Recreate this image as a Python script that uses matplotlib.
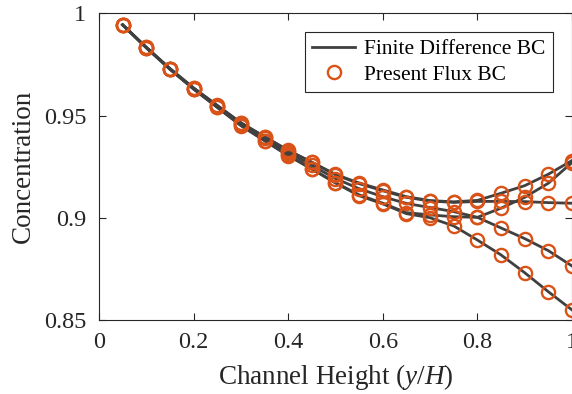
import matplotlib
matplotlib.use("Agg")
import matplotlib.pyplot as plt
from matplotlib.lines import Line2D

plt.rcParams['font.family'] = ['Liberation Serif', 'DejaVu Serif']
plt.rcParams['mathtext.fontset'] = 'custom'
plt.rcParams['mathtext.rm'] = 'Liberation Serif'
plt.rcParams['mathtext.it'] = 'Liberation Serif:italic'

# Channel height positions
x = [0.05, 0.10, 0.15, 0.20, 0.25, 0.30, 0.35, 0.40, 0.45, 0.50,
     0.55, 0.60, 0.65, 0.70, 0.75, 0.80, 0.85, 0.90, 0.95, 1.00]

# Concentration profiles (five cases)
conc_a = [0.9944, 0.9834, 0.9730, 0.9635, 0.9550, 0.9465, 0.9397, 0.9330, 0.9272, 0.9212,
          0.9170, 0.9136, 0.9103, 0.9084, 0.9078, 0.9085, 0.9120, 0.9157, 0.9213, 0.9280]
conc_b = [0.9944, 0.9834, 0.9730, 0.9635, 0.9549, 0.9464, 0.9396, 0.9329, 0.9271, 0.9210,
          0.9167, 0.9132, 0.9100, 0.9082, 0.9075, 0.9080, 0.9080, 0.9079, 0.9074, 0.9071]
conc_c = [0.9944, 0.9833, 0.9728, 0.9632, 0.9545, 0.9458, 0.9388, 0.9318, 0.9256, 0.9192,
          0.9142, 0.9103, 0.9070, 0.9050, 0.9030, 0.9002, 0.8950, 0.8898, 0.8839, 0.8764]
conc_d = [0.9944, 0.9832, 0.9727, 0.9630, 0.9541, 0.9452, 0.9378, 0.9305, 0.9240, 0.9172,
          0.9112, 0.9071, 0.9025, 0.9014, 0.9005, 0.9002, 0.9047, 0.9100, 0.9169, 0.9270]
conc_e = [0.9944, 0.9832, 0.9727, 0.9630, 0.9540, 0.9451, 0.9377, 0.9304, 0.9238, 0.9170,
          0.9108, 0.9068, 0.9020, 0.9000, 0.8960, 0.8891, 0.8818, 0.8731, 0.8638, 0.8549]
series = [conc_a, conc_b, conc_c, conc_d, conc_e]

xticks = [0, 0.2, 0.4, 0.6, 0.8, 1]
xticklabels = ['0', '0.2', '0.4', '0.6', '0.8', '1']
yticks = [0.85, 0.9, 0.95, 1]
yticklabels = ['0.85', '0.9', '0.95', '1']

line_color = '#404040'
marker_color = '#D95319'
axis_color = '#262626'

fig = plt.figure(figsize=(5.72, 3.94), dpi=100)
ax = fig.add_axes([0.173, 0.188, 0.827, 0.778])

for s in series:
    ax.plot(x, s, '-', color=line_color, lw=2.0, zorder=2, clip_on=False)
for s in series:
    ax.plot(x, s, 'o', mfc='none', mec=marker_color, mew=1.7, ms=9.5, zorder=3, clip_on=False)

ax.set_xlim(0, 1)
ax.set_ylim(0.85, 1)
ax.set_xticks(xticks)
ax.set_xticklabels(xticklabels)
ax.set_yticks(yticks)
ax.set_yticklabels(yticklabels)
ax.tick_params(direction='in', top=True, right=True, length=5, width=0.8,
               colors=axis_color, labelsize=17.5)
ax.tick_params(axis='x', pad=9)
ax.tick_params(axis='y', pad=9)
for sp in ax.spines.values():
    sp.set_color(axis_color)
    sp.set_linewidth(0.8)

ax.set_xlabel(r'Channel Height ($y$/$H$)', fontsize=19.5, color=axis_color, labelpad=6)
ax.set_ylabel('Concentration', fontsize=19.5, color=axis_color, labelpad=6)

handles = [Line2D([0], [0], color=line_color, lw=2.0),
           Line2D([0], [0], ls='none', marker='o', mfc='none', mec=marker_color, mew=1.7, ms=9.5)]
leg = ax.legend(handles, ['Finite Difference BC', 'Present Flux BC'],
                loc='upper right', bbox_to_anchor=(0.982, 0.975), fontsize=15.5,
                fancybox=False, framealpha=1, edgecolor=axis_color,
                handlelength=2.0, handletextpad=0.4, borderpad=0.35, labelspacing=0.25)
leg.get_frame().set_linewidth(0.8)

fig.savefig('out.png', dpi=100)
